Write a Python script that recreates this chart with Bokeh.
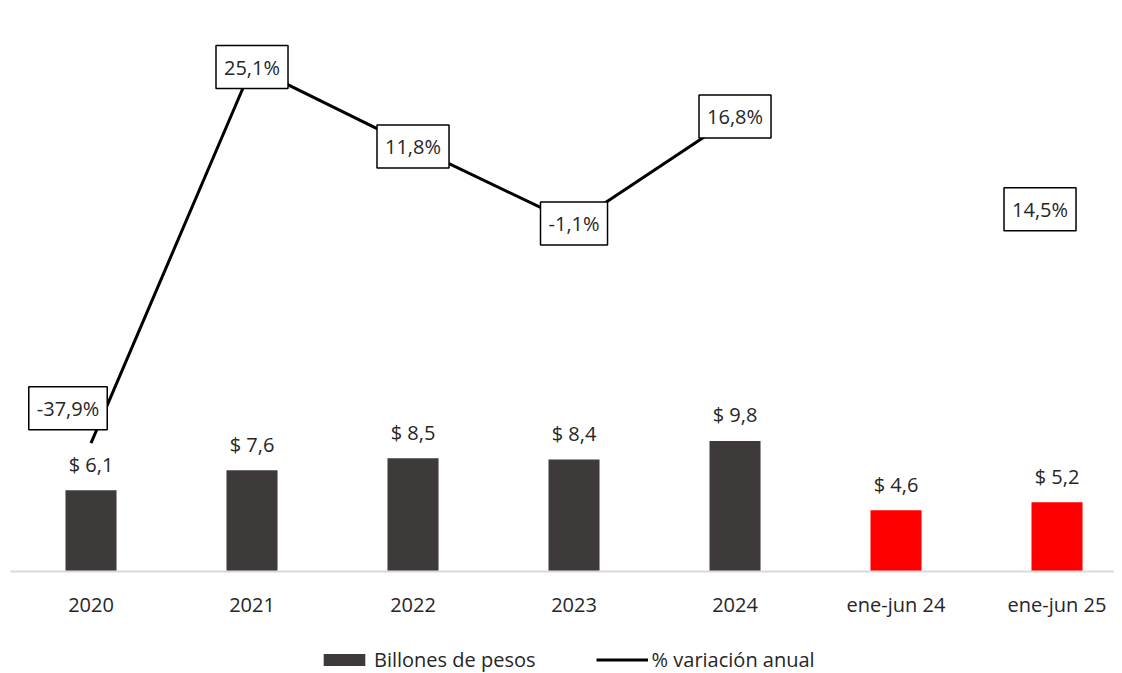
from bokeh.plotting import figure
from bokeh.layouts import column
from bokeh.models import (ColumnDataSource, Range1d, FixedTicker, Label, Legend, LegendItem)
from bokeh.core.properties import value
from bokeh.embed import file_html
from bokeh.resources import INLINE

# ---- data ----
categories = ["2020", "2021", "2022", "2023", "2024", "ene-jun 24", "ene-jun 25"]
billones = [6.1, 7.6, 8.5, 8.4, 9.8, 4.6, 5.2]
is_semester = [False, False, False, False, False, True, True]
pct_years = ["2020", "2021", "2022", "2023", "2024"]
pct_values = [-37.9, 25.1, 11.8, -1.1, 16.8]
pct_semester_cat = "ene-jun 25"
pct_semester_value = 14.5
legend_labels = ["Billones de pesos", "% variación anual"]

FONT = "Open Sans"
FS = "20px"
DARK = "#3E3A3A"
RED = "#FF0000"
TXT = "#262626"

xs = list(range(len(categories)))
idx = {c: i for i, c in enumerate(categories)}

p = figure(frame_width=1104, frame_height=563, x_range=Range1d(-0.5, 6.357), y_range=Range1d(0, 42.24),
           output_backend="svg", toolbar_location=None,
           min_border_left=10, min_border_right=0, min_border_top=8, min_border_bottom=0)
p.extra_y_ranges = {"pct": Range1d(-59.4, 34.9)}
p.xgrid.visible = False
p.ygrid.visible = False
p.yaxis.visible = False
p.outline_line_color = None

fmt_bill = ["$ " + f"{v:.1f}".replace(".", ",") for v in billones]

annual = ColumnDataSource(dict(
    x=[xs[i] for i in range(len(xs)) if not is_semester[i]],
    top=[billones[i] for i in range(len(xs)) if not is_semester[i]]))
semest = ColumnDataSource(dict(
    x=[xs[i] for i in range(len(xs)) if is_semester[i]],
    top=[billones[i] for i in range(len(xs)) if is_semester[i]]))

p.vbar(x="x", top="top", width=0.317, bottom=0, source=annual, fill_color=DARK, line_color=None)
p.vbar(x="x", top="top", width=0.317, bottom=0, source=semest, fill_color=RED, line_color=None)

p.text(x=xs, y=billones, text=fmt_bill, text_align="center", text_baseline="middle",
       y_offset=-26, text_font=value(FONT), text_font_size=FS, text_color=TXT)

px = [idx[c] for c in pct_years]
p.line(x=px, y=pct_values, y_range_name="pct", line_color="black", line_width=3)

def pct_txt(v):
    return f"{v:.1f}".replace(".", ",") + "%"

label_offsets = {"2020": (-23, 35)}
for c, v in zip(pct_years, pct_values):
    xo, yo = label_offsets.get(c, (0, 0))
    p.add_layout(Label(x=idx[c], y=v, y_range_name="pct", text=pct_txt(v),
                       x_offset=xo, y_offset=yo, text_align="center", text_baseline="middle",
                       text_font=FONT, text_font_size=FS, text_color=TXT,
                       background_fill_color="white", border_line_color="black",
                       border_line_width=1.5, padding=8))
p.add_layout(Label(x=idx[pct_semester_cat], y=pct_semester_value, y_range_name="pct",
                   text=pct_txt(pct_semester_value), x_offset=-17, y_offset=-79,
                   text_align="center", text_baseline="middle",
                   text_font=FONT, text_font_size=FS, text_color=TXT,
                   background_fill_color="white", border_line_color="black",
                   border_line_width=1.5, padding=8))

ax = p.xaxis[0]
ax.ticker = FixedTicker(ticks=xs)
ax.major_label_overrides = {i: c for i, c in enumerate(categories)}
ax.major_tick_line_color = None
ax.minor_tick_line_color = None
ax.axis_line_color = "#D9D9D9"
ax.axis_line_width = 2
ax.major_label_standoff = 13
ax.major_label_text_font = FONT
ax.major_label_text_font_size = FS
ax.major_label_text_color = TXT

# legend strip below the chart (hidden proxy renderers carry the swatch styles)
lg = figure(width=1114, height=56, x_range=Range1d(0, 1), y_range=Range1d(0, 1),
            output_backend="svg", toolbar_location=None,
            min_border_left=0, min_border_right=0, min_border_top=0, min_border_bottom=0)
lg.xaxis.visible = False
lg.yaxis.visible = False
lg.xgrid.visible = False
lg.ygrid.visible = False
lg.outline_line_color = None
sw_bar = lg.vbar(x="x", top="top", width=0.317, bottom=0, source=annual,
                 fill_color=DARK, line_color=None, visible=False)
sw_line = lg.line(x=px, y=pct_values, line_color="black", line_width=3, visible=False)
legend = Legend(items=[LegendItem(label=legend_labels[0], renderers=[sw_bar]),
                       LegendItem(label=legend_labels[1], renderers=[sw_line])],
                orientation="horizontal", location=(308, 3),
                border_line_color=None, background_fill_alpha=0, inactive_fill_alpha=0,
                glyph_width=52, glyph_height=15, label_standoff=4, spacing=60,
                padding=0, margin=0,
                label_text_font=FONT, label_text_font_size=FS, label_text_color=TXT)
lg.add_layout(legend, "center")

layout = column(p, lg, spacing=0)
open("out.html", "w").write(file_html(layout, INLINE))
